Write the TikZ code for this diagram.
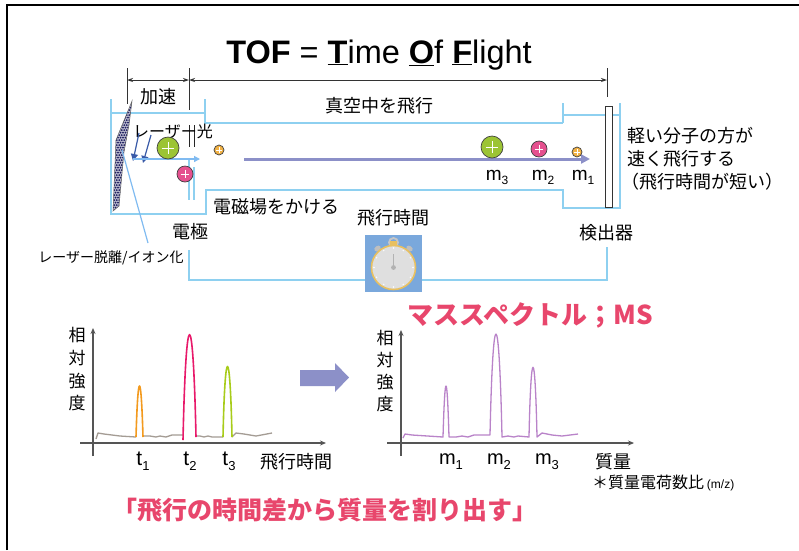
\documentclass[tikz,border=0pt]{standalone}
\usepackage{fontspec}
\setmainfont{Liberation Sans}
\newfontfamily\jp{Noto Sans CJK JP}
\usetikzlibrary{arrows.meta,calc}

\definecolor{tubeblue}{HTML}{8ED0F0}
\definecolor{laserblue}{HTML}{3A5BA8}
\definecolor{pathblue}{HTML}{8C90C8}
\definecolor{headred}{HTML}{E8466C}
\definecolor{ionlime}{HTML}{9CC434}
\definecolor{ionpink}{HTML}{E5508F}
\definecolor{ionorange}{HTML}{F2B245}
\definecolor{peakorange}{HTML}{F39A1E}
\definecolor{peakpink}{HTML}{E8196A}
\definecolor{peaklime}{HTML}{A8CC1A}
\definecolor{noisegray}{HTML}{A49C94}
\definecolor{specpurple}{HTML}{B983C9}
\definecolor{axisgray}{HTML}{555555}
\definecolor{watchblue}{HTML}{7AA8DC}
\definecolor{watchgold}{HTML}{E8C060}
\definecolor{platenavy}{HTML}{1C1C5E}

\newcommand{\jfs}[1]{\fontsize{#1}{#1}\selectfont}

\tikzset{
  tubeline/.style={draw=tubeblue, line width=1.8pt},
  dimline/.style={draw=black!80, line width=0.9pt},
  dimarrow/.style={dimline, {Stealth[length=6pt,width=4pt]}-{Stealth[length=6pt,width=4pt]}},
  lbl/.style={inner sep=0pt, font=\jp\jfs{18}},
  ion/.style={draw=black!75, line width=0.7pt},
  axis/.style={draw=axisgray, line width=1.2pt},
  axisarrow/.style={axis, -{Stealth[length=6pt,width=5pt]}},
  peak/.style={line width=1.6pt, line join=round},
}

% an ion: coloured ball with a white plus sign
\newcommand{\ionball}[4]{%
  \node[ion, circle, fill=#3, minimum size=#2*2pt, inner sep=0pt] (#4) at #1 {};
  \draw[white, line width=0.9pt] ($(#4)+(-#2*0.55,0)$) -- ($(#4)+(#2*0.55,0)$)
        ($(#4)+(0,-#2*0.55)$) -- ($(#4)+(0,#2*0.55)$);
}

\begin{document}
\begin{tikzpicture}[x=1pt,y=-1pt]
\useasboundingbox (0,0) rectangle (799,550);
\fill[white] (0,0) rectangle (799,550);

% frame
\draw[line width=2pt] (7,550) -- (7,5) -- (799,5);

% title
\node[inner sep=0pt, font=\fontsize{32.5}{34}\selectfont, anchor=base] (title) at (379,63)
  {\textbf{TOF} = \underline{\textbf{T}}ime \underline{\textbf{O}}f \underline{\textbf{F}}light};

% dimension lines
\coordinate (d0) at (127,80);
\coordinate (d1) at (189,80);
\coordinate (d2) at (607,80);
\draw[dimline] (127,68) -- (127,104);
\draw[dimline] (189,68) -- (189,110);
\draw[dimline] (607,68) -- (607,97);
\draw[dimarrow] (d0) -- (d1);
\draw[dimarrow] (d1) -- (d2);
\node[lbl] (accel) at (158,97) {加速};

% flight tube
\draw[tubeline] (111,99) -- (111,214) -- (206,214) -- (206,190) -- (563,190)
   -- (563,208) -- (620,208) -- (620,103);
\draw[tubeline] (111,113) -- (205,113);
\draw[tubeline] (205,99) -- (205,123) -- (563,123);
\draw[tubeline] (563,103) -- (563,123);
\draw[tubeline] (563,115) -- (620,115);

% detector plate
\node[draw=black!80, fill=white, line width=0.9pt, minimum width=6.5pt, minimum height=101pt, inner sep=0pt]
  (detplate) at (609,156.5) {};

% sample plate with matrix crystals
\begin{scope}
  \path[clip] (113,211) -- (116,140) -- (132,101) -- (129,125) -- (124,152) -- (119,206) -- cycle;
  \fill[platenavy!30] (105,95) rectangle (140,215);
  \foreach \yy [count=\row] in {100,102.5,...,214} {
    \pgfmathsetmacro{\off}{mod(\row,2)*1.25}
    \foreach \xx in {108,110.5,...,138} {
      \fill[platenavy] (\xx+\off,\yy) circle (1.0);
    }
  }
\end{scope}
\draw[black!60, line width=0.5pt] (113,211) -- (116,140) -- (132,101) -- (129,125) -- (124,152) -- (119,206) -- cycle;

% electrode
\draw[black!85, line width=0.8pt] (189,125) -- (189,147) (194,125) -- (194,147);
\draw[tubeblue, line width=1.4pt] (189,160) -- (189,200) (194,167) -- (194,200);

% laser
\node[lbl, font=\jp\jfs{16}] (laserlbl) at (173,131) {レーザー光};
\coordinate (l1a) at (139,133); \coordinate (l1b) at (133,161);
\coordinate (l2a) at (151,135); \coordinate (l2b) at (143,163);
\draw[laserblue, line width=1.2pt, -{Triangle[length=7pt,width=7pt]}] (l1a) -- (l1b);
\draw[laserblue, line width=1.2pt, -{Triangle[length=7pt,width=7pt]}] (l2a) -- (l2b);

% ions leaving the plate
\coordinate (acc0) at (133,159);
\coordinate (acc1) at (200,159);
\draw[tubeblue!90!blue, line width=1.3pt, -{Triangle[length=6pt,width=6pt]}] (acc0) -- (acc1);
\ionball{(168,148)}{11}{ionlime}{ionA}
\ionball{(185,174)}{8}{ionpink}{ionB}
\ionball{(219,150)}{5}{ionorange}{ionC}

% flight path
\coordinate (fp0) at (244,159);
\coordinate (fp1) at (590,159);
\draw[pathblue, line width=3pt, -{Triangle[length=9pt,width=9pt]}] (fp0) -- (fp1);
\ionball{(492,147)}{11}{ionlime}{ionM3}
\ionball{(539,149)}{8}{ionpink}{ionM2}
\ionball{(577,152)}{5}{ionorange}{ionM1}
\node[inner sep=0pt, font=\jfs{19}] (m3top) at (497,177) {m{\jfs{12}\raisebox{-4pt}{3}}};
\node[inner sep=0pt, font=\jfs{19}] (m2top) at (543,177) {m{\jfs{12}\raisebox{-4pt}{2}}};
\node[inner sep=0pt, font=\jfs{19}] (m1top) at (583,177) {m{\jfs{12}\raisebox{-4pt}{1}}};

% tube labels
\node[lbl] (vac) at (379,106) {真空中を飛行};
\node[lbl] (field) at (276,207) {電磁場をかける};
\node[lbl] (elec) at (190,232) {電極};
\node[lbl] (det) at (606,233) {検出器};
\node[lbl, font=\jp\jfs{14}] (maldi) at (111,258) {レーザー脱離/イオン化};
\coordinate (maldiB) at (148,243);
\coordinate (maldiT) at (122,150);
\draw[tubeblue!90!blue, line width=1.2pt] (maldiB) -- (maldiT);
\node[lbl, anchor=west] (note1) at (627,136) {軽い分子の方が};
\node[lbl, anchor=west] (note2) at (627,159) {速く飛行する};
\node[lbl, anchor=west] (note3) at (621,182) {（飛行時間が短い）};

% timing circuit
\coordinate (c0) at (189,250);
\coordinate (c1) at (607,247);
\draw[tubeline] (c0) -- (189,280) -- (607,280) -- (c1);

% stopwatch
\node[lbl] (swlbl) at (393,218) {飛行時間};
\node[fill=watchblue, minimum size=57pt, inner sep=0pt] (sw) at (393.5,263.5) {};
\begin{scope}[shift={(sw.center)}]
  \draw[gray!45, line width=1.8pt] (0,-21) circle (4.5);
  \fill[watchgold] (-3.5,-22.5) rectangle (3.5,-17);
  \fill[gray!50, rotate around={35:(-16,-15)}] (-16,-15) ellipse (3.5 and 2.5);
  \fill[gray!50, rotate around={-35:(16,-15)}] (16,-15) ellipse (3.5 and 2.5);
  \draw[fill=gray!25, draw=watchgold, line width=1.6pt] (0,4) circle (22);
  \foreach \a in {0,30,...,330} \fill[white] ($(0,4)+(\a:19.5)$) circle (0.8);
  \draw[gray!60, line width=0.6pt] (0,4) -- (0,-10);
  \fill[gray!60] (0,4) circle (2.4);
\end{scope}

% time-of-flight chart
\draw[axisarrow] (93,456) -- (93,328);
\draw[axisarrow] (80,443) -- (326,443);
\foreach \ch/\yy/\nm in {相/335/ya, 対/358/yb, 強/381/yc, 度/403/yd}
  \node[lbl, font=\jp\jfs{17}] (L\nm) at (77,\yy) {\ch};
\draw[noisegray, line width=1.3pt, line join=round] (96,439) -- (98,433) -- (104,434) -- (120,436) -- (136,437);
\draw[noisegray, line width=1.3pt, line join=round] (143,436) -- (150,436) -- (156,437) -- (160,436) -- (166,437) -- (172,435) -- (183,435);
\draw[noisegray, line width=1.3pt, line join=round] (196,436) -- (200,436) -- (204,437) -- (208,436) -- (212,437) -- (223,437);
\draw[noisegray, line width=1.3pt, line join=round] (232,437) -- (236,433) -- (244,434) -- (256,436) -- (272,433);
\draw[peak, peakorange] (136,437) .. controls (138,369) and (141,369) .. (143,437);
\draw[peak, peakpink] (183,440) .. controls (186,300) and (193,300) .. (196,437);
\draw[peak, peaklime] (223,437) .. controls (225,343) and (230,343) .. (232,437);
\node[inner sep=0pt, font=\jfs{21}] (t1) at (143,461) {t{\jfs{13}\raisebox{-5pt}{1}}};
\node[inner sep=0pt, font=\jfs{21}] (t2) at (190,461) {t{\jfs{13}\raisebox{-5pt}{2}}};
\node[inner sep=0pt, font=\jfs{21}] (t3) at (229,461) {t{\jfs{13}\raisebox{-5pt}{3}}};
\node[lbl] (tofax) at (296,462) {飛行時間};

% conversion arrow
\fill[pathblue] (300,370) -- (335,370) -- (335,363) -- (349,377.5) -- (335,392) -- (335,386) -- (300,386) -- cycle;

% mass spectrum chart
\node[inner sep=0pt, text=headred, font=\jp\bfseries\jfs{26}] (mstitle) at (530,315) {マススペクトル；MS};
\draw[axisarrow] (401,456) -- (401,330);
\draw[axisarrow] (387,443) -- (634,443);
\foreach \ch/\yy/\nm in {相/338/ya, 対/360/yb, 強/382/yc, 度/404/yd}
  \node[lbl, font=\jp\jfs{17}] (R\nm) at (385,\yy) {\ch};
\draw[specpurple, line width=1.3pt, line join=round]
  (403,438) -- (405,434) -- (412,435) -- (443,437)
  .. controls (445,369) and (447,369) .. (449,437)
  -- (456,437) -- (462,436) -- (468,437) -- (474,435) -- (480,435) -- (490,435)
  .. controls (493,300) and (499,300) .. (502,437)
  -- (508,436) -- (514,437) -- (518,436) -- (529,437)
  .. controls (531,344) and (535,344) .. (537,437)
  -- (542,433) -- (552,435) -- (562,436) -- (578,434);
\node[inner sep=0pt, font=\jfs{20}] (m1b) at (451,462) {m{\jfs{13}\raisebox{-5pt}{1}}};
\node[inner sep=0pt, font=\jfs{20}] (m2b) at (499,462) {m{\jfs{13}\raisebox{-5pt}{2}}};
\node[inner sep=0pt, font=\jfs{20}] (m3b) at (547,462) {m{\jfs{13}\raisebox{-5pt}{3}}};
\node[lbl] (massax) at (613,462) {質量};
\node[inner sep=0pt, anchor=west] (mznote) at (592,483)
  {{\jp\jfs{16}＊質量電荷数比} {\jfs{12}(m/z)}};

% conclusion
\node[inner sep=0pt, text=headred, font=\jp\bfseries\jfs{25}] (concl) at (325,510)
  {「飛行の時間差から質量を割り出す」};
\end{tikzpicture}
\end{document}
